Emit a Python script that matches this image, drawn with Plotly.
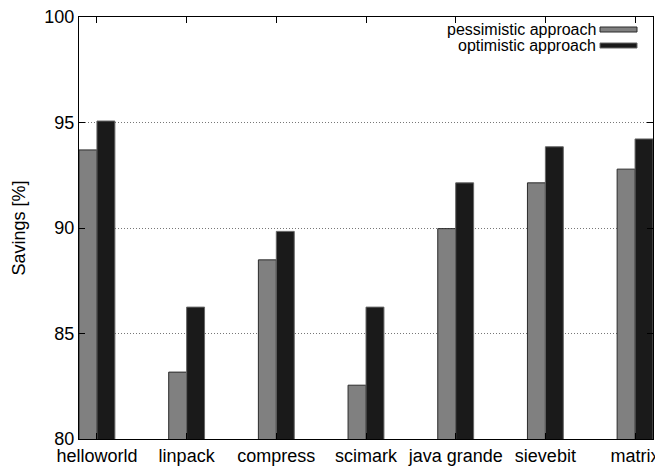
import plotly.graph_objects as go

categories = ["helloworld", "linpack", "compress", "scimark", "java grande", "sievebit", "matrix"]
pessimistic = [93.70, 83.17, 88.49, 82.55, 89.97, 92.14, 92.79]
optimistic = [95.07, 86.25, 89.84, 86.25, 92.14, 93.85, 94.22]
series_names = ["pessimistic approach", "optimistic approach"]
yticks = [80, 85, 90, 95, 100]

# page body has an 8px default margin; compensate so the plot lands where the reference has it
OFF = 8
W, H = 663 - OFF, 469 - OFF
L, R, T, B = 79 - OFF, 10, 17 - OFF, 30
FONT = "Liberation Sans, Arial, Helvetica, sans-serif"

xs = list(range(len(categories)))

fig = go.Figure()
fig.add_trace(go.Bar(x=xs, y=pessimistic, name=series_names[0],
                     marker=dict(color="#808080", line=dict(color="#2a2a2a", width=1))))
fig.add_trace(go.Bar(x=xs, y=optimistic, name=series_names[1],
                     marker=dict(color="#1a1a1a", line=dict(color="#666666", width=1))))

# convert screen pixel positions (reference coordinates) to paper coordinates
def px2x(px):
    return (px - OFF - L) / (W - L - R)

def py2y(py):
    return (H - B - (py - OFF)) / (H - T - B)

shapes = []
annotations = []
for i, (name, col, lc) in enumerate([(series_names[0], "#808080", "#2a2a2a"),
                                     (series_names[1], "#1a1a1a", "#666666")]):
    yc = 29.5 + 16 * i
    shapes.append(dict(type="rect", xref="paper", yref="paper",
                       x0=px2x(600), x1=px2x(637), y0=py2y(yc + 2.5), y1=py2y(yc - 2.5),
                       fillcolor=col, line=dict(color=lc, width=1)))
    annotations.append(dict(text=name, xref="paper", yref="paper",
                            x=px2x(598), y=py2y(yc), xanchor="right", yanchor="middle",
                            showarrow=False, font=dict(family=FONT, size=16, color="black")))

fig.update_layout(
    width=W, height=H,
    margin=dict(l=L, r=R, t=T, b=B, autoexpand=False),
    paper_bgcolor="white", plot_bgcolor="white",
    barmode="group", bargap=0.6, bargroupgap=0,
    showlegend=False,
    font=dict(family=FONT, size=18, color="black"),
    shapes=shapes, annotations=annotations,
    xaxis=dict(range=[-0.2, 6.2], tickmode="array", tickvals=xs, ticktext=categories,
               showline=True, linecolor="black", linewidth=1, mirror="ticks",
               ticks="inside", ticklen=6, tickcolor="black", showgrid=False,
               zeroline=False, tickfont=dict(size=18), automargin=False,
               ticklabeloverflow="allow"),
    yaxis=dict(range=[80, 100], tickmode="array", tickvals=yticks,
               showline=True, linecolor="black", linewidth=1, mirror="ticks",
               ticks="inside", ticklen=6, tickcolor="black",
               showgrid=True, gridcolor="#777777", griddash="1px,2px", gridwidth=1,
               zeroline=False, tickfont=dict(size=18), automargin=False,
               ticklabeloverflow="allow",
               title=dict(text="Savings [%]", font=dict(size=18), standoff=14)),
)

fig.write_html("out.html")
